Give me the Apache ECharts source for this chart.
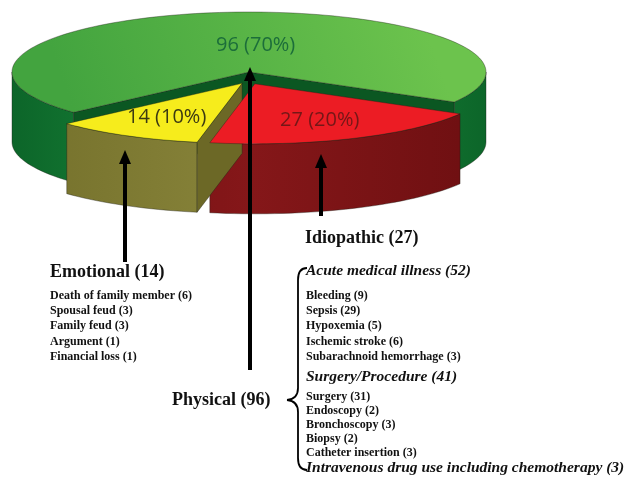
<!DOCTYPE html>
<html>
<head>
<meta charset="utf-8">
<script src="https://cdn.jsdelivr.net/npm/echarts@6/dist/echarts.min.js"></script>
<style>
  html, body { margin: 0; padding: 0; background: #fff; }
  #main { width: 632px; height: 477px; }
</style>
</head>
<body>
<div id="main"></div>
<script>
// causes, in the order they sit round the pie (clockwise from the right)
var causeNames = ['Idiopathic', 'Emotional', 'Physical'];
var causeCounts = [27, 14, 96];
var causeExploded = [true, true, false];

var emotionalNames = ['Death of family member', 'Spousal feud', 'Family feud', 'Argument', 'Financial loss'];
var emotionalCounts = [6, 3, 3, 1, 1];

var acuteNames = ['Bleeding', 'Sepsis', 'Hypoxemia', 'Ischemic stroke', 'Subarachnoid hemorrhage'];
var acuteCounts = [9, 29, 5, 6, 3];
var surgeryNames = ['Surgery', 'Endoscopy', 'Bronchoscopy', 'Biopsy', 'Catheter insertion'];
var surgeryCounts = [31, 2, 3, 2, 3];
var groupNames = ['Acute medical illness', 'Surgery/Procedure', 'Intravenous drug use including chemotherapy'];
var groupCounts = [52, 41, 3];

// look of the pie
var topColors = ['#ec1c24', '#f6ec1c', '#5dba4a'];
var sideColors = [['#6d0f11', '#851719'], ['#74702b', '#88843a'], ['#0c6529', '#1f9340']];
var cutColors = ['#5e0c0e', '#6c6826', '#0b5722'];
var textColors = ['#741717', '#3b3912', '#1c6e3a'];
var labelRadius = [0.66, 0.65, 0.45];
var labelNudge = [0, 0, 18];

var CX = 249, CY = 72, RX = 237, RY = 60, H = 70, START = 30;

var total = causeCounts.reduce(function (s, v) { return s + v; }, 0);
var cum = [];
causeCounts.reduce(function (s, v, i) { cum[i] = s; return s + v; }, 0);

var rad = Math.PI / 180;

function rimPoint(deg, r, off, down) {
    return [CX + off[0] + r * RX * Math.cos(deg * rad),
            CY + off[1] + r * RY * Math.sin(deg * rad) + (down ? H : 0)];
}

function arc(a, b, off, down) {
    var pts = [];
    var n = Math.max(2, Math.ceil(Math.abs(b - a) / 2));
    for (var k = 0; k <= n; k++) {
        pts.push(rimPoint(a + (b - a) * k / n, 1, off, down));
    }
    return pts;
}

// parts of [a, b] that face the viewer (screen angle 0..180, y down)
function frontRanges(a, b) {
    var out = [];
    for (var k = -1; k <= 2; k++) {
        var s = Math.max(a, k * 360), e = Math.min(b, k * 360 + 180);
        if (e > s) out.push([s, e]);
    }
    return out;
}

function renderSlice(params, api) {
    var i = params.dataIndex;
    var v = api.value(0);
    var a0 = START + 360 * cum[i] / total;
    var a1 = a0 + 360 * v / total;
    var mid = (a0 + a1) / 2;
    var off = causeExploded[i] ? [14 * Math.cos(mid * rad), 13 * Math.sin(mid * rad)] : [0, 0];
    var base = causeExploded[i] ? 20 : 0;
    var line = 'rgba(30,30,20,0.55)';
    var kids = [];

    // outer wall, only where it faces us
    frontRanges(a0, a1).forEach(function (r) {
        var pts = arc(r[0], r[1], off, false).concat(arc(r[0], r[1], off, true).reverse());
        kids.push({
            type: 'polygon', z2: base + 1,
            shape: { points: pts },
            style: {
                fill: {
                    type: 'linear', x: 10, y: 0, x2: 490, y2: 0, global: true,
                    colorStops: [
                        { offset: 0, color: sideColors[i][0] },
                        { offset: 0.5, color: sideColors[i][1] },
                        { offset: 1, color: sideColors[i][0] }
                    ]
                },
                stroke: line, lineWidth: 0.7
            }
        });
    });

    // radial cut faces that turn toward the viewer
    var c = [CX + off[0], CY + off[1]];
    var cb = [c[0], c[1] + H];
    [[a0, -Math.cos(a0 * rad)], [a1, Math.cos(a1 * rad)]].forEach(function (f) {
        if (f[1] <= 0) return;
        kids.push({
            type: 'polygon', z2: base + 2,
            shape: { points: [c, rimPoint(f[0], 1, off, false), rimPoint(f[0], 1, off, true), cb] },
            style: { fill: cutColors[i], stroke: line, lineWidth: 0.7 }
        });
    });

    kids.push({
        type: 'polygon', z2: base + 3,
        shape: { points: [c].concat(arc(a0, a1, off, false)) },
        style: {
            fill: i === 2 ? {
                type: 'linear', x: 420, y: 10, x2: 80, y2: 130, global: true,
                colorStops: [
                    { offset: 0, color: '#6cc34d' },
                    { offset: 1, color: '#43a43f' }
                ]
            } : topColors[i],
            stroke: line, lineWidth: 0.7
        }
    });

    var lp = rimPoint(mid, labelRadius[i], off, false);
    var pct = Math.round(v / total * 100);
    kids.push({
        type: 'text', z2: base + 5,
        style: {
            text: v + ' (' + pct + '%)',
            x: lp[0] + labelNudge[i], y: lp[1],
            textAlign: 'center', textVerticalAlign: 'middle',
            align: 'center', verticalAlign: 'middle',
            font: '20px "Open Sans", sans-serif',
            fill: textColors[i]
        }
    });
    return { type: 'group', children: kids };
}

function arrow(x, y0, y1) {
    return [
        { type: 'line', shape: { x1: x, y1: y0, x2: x, y2: y1 + 10 }, style: { stroke: '#000', lineWidth: 4 }, z: 50 },
        { type: 'polygon', shape: { points: [[x, y1], [x - 6, y1 + 14], [x + 6, y1 + 14]] }, style: { fill: '#000' }, z: 50 }
    ];
}

var SERIF = '"Liberation Serif", "DejaVu Serif", serif';

function label(txt, x, y, size, italic) {
    return {
        type: 'text', z: 60,
        style: {
            text: txt, x: x, y: y,
            textVerticalAlign: 'middle', verticalAlign: 'middle',
            font: (italic ? 'italic ' : '') + 'bold ' + size + 'px ' + SERIF,
            fill: '#111'
        }
    };
}

function curve(x1, y1, cx, cy, x2, y2) {
    return { type: 'bezierCurve', z: 60,
        shape: { x1: x1, y1: y1, cpx1: cx, cpy1: cy, x2: x2, y2: y2 },
        style: { fill: 'none', stroke: '#000', lineWidth: 1.8 } };
}

function seg(x1, y1, x2, y2) {
    return { type: 'line', z: 60, shape: { x1: x1, y1: y1, x2: x2, y2: y2 },
        style: { stroke: '#000', lineWidth: 1.8 } };
}

var graphics = [];
graphics = graphics.concat(arrow(125, 262, 150));
graphics = graphics.concat(arrow(250, 370, 67));
graphics = graphics.concat(arrow(321, 216, 154));

graphics.push(label(causeNames[2] + ' (' + causeCounts[2] + ')', 172, 400, 18));
graphics.push(label(causeNames[0] + ' (' + causeCounts[0] + ')', 305, 238, 18));
graphics.push(label(causeNames[1] + ' (' + causeCounts[1] + ')', 50, 272, 18));

emotionalNames.forEach(function (n, k) {
    graphics.push(label(n + ' (' + emotionalCounts[k] + ')', 50, 296 + k * 15.2, 12));
});

graphics.push(label(groupNames[0] + ' (' + groupCounts[0] + ')', 306, 271, 15.5, true));
acuteNames.forEach(function (n, k) {
    graphics.push(label(n + ' (' + acuteCounts[k] + ')', 306, 296 + k * 15.2, 12));
});
graphics.push(label(groupNames[1] + ' (' + groupCounts[1] + ')', 306, 377, 15.5, true));
surgeryNames.forEach(function (n, k) {
    graphics.push(label(n + ' (' + surgeryCounts[k] + ')', 306, 397 + k * 14, 12));
});
graphics.push(label(groupNames[2] + ' (' + groupCounts[2] + ')', 306, 468, 15.5, true));

// curly brace next to "Physical (96)"
graphics.push(curve(307, 268, 298, 268, 298, 280));
graphics.push(seg(298, 280, 298, 388));
graphics.push(curve(298, 388, 298, 399, 287, 400));
graphics.push(curve(287, 400, 298, 401, 298, 412));
graphics.push(seg(298, 412, 298, 458));
graphics.push(curve(298, 458, 298, 470, 307, 470));

var chart = echarts.init(document.getElementById('main'));
chart.setOption({
    animation: false,
    series: [{
        type: 'custom',
        coordinateSystem: 'none',
        data: causeCounts.map(function (v) { return [v]; }),
        renderItem: renderSlice
    }],
    graphic: graphics
});
</script>
</body>
</html>
